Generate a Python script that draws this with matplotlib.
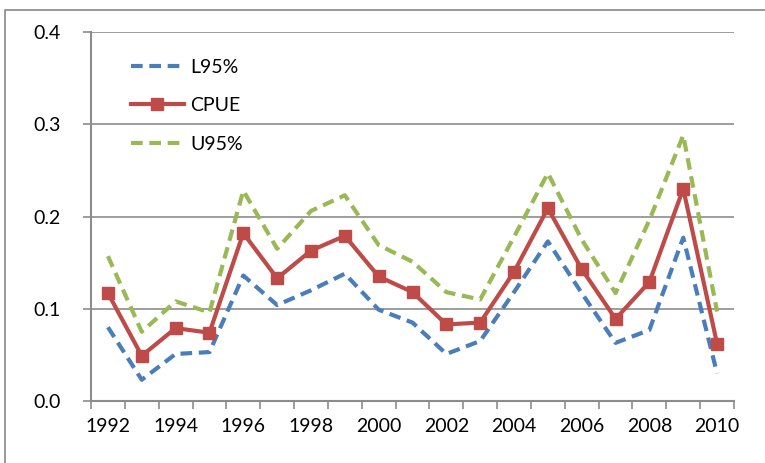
import matplotlib.pyplot as plt
import matplotlib.patches as mpatches
import numpy as np

plt.rcParams['font.family'] = ['Lato', 'DejaVu Sans']

years = list(range(1992, 2011))
cpue = [0.117, 0.049, 0.079, 0.074, 0.182, 0.133, 0.163, 0.179, 0.135, 0.118,
        0.083, 0.085, 0.140, 0.209, 0.143, 0.089, 0.129, 0.230, 0.062]
l95 = [0.080, 0.023, 0.051, 0.053, 0.136, 0.104, 0.120, 0.138, 0.099, 0.085,
       0.051, 0.065, 0.118, 0.173, 0.117, 0.063, 0.077, 0.177, 0.030]
u95 = [0.157, 0.075, 0.108, 0.096, 0.228, 0.165, 0.206, 0.223, 0.169, 0.151,
       0.118, 0.110, 0.178, 0.247, 0.175, 0.117, 0.196, 0.288, 0.097]
tick_years = [str(y) for y in years[::2]]

blue = '#4a7ebb'
red = '#be4b48'
green = '#98b954'

fig = plt.figure(figsize=(7.65, 4.63), dpi=100)
ax = fig.add_axes([91 / 765, 1 - 401 / 463, (734 - 91) / 765, (401 - 32) / 463])

# outer chart border (top and left visible)
fig.add_artist(mpatches.Rectangle((5 / 765, -0.05), 1.0, 1 - 10 / 463 + 0.05,
                                  transform=fig.transFigure, fill=False,
                                  edgecolor='#888888', linewidth=1.2))

x = np.arange(len(years))
ax.plot(x, l95, '--', color=blue, lw=3, dashes=(2.8, 1.6), label='L95%', zorder=3)
ax.plot(x, cpue, '-s', color=red, lw=3, markersize=8, label='CPUE', zorder=4)
ax.plot(x, u95, '--', color=green, lw=3, dashes=(2.8, 1.6), label='U95%', zorder=3)

ax.set_xlim(-0.5, len(years) - 0.5)
ax.set_ylim(0, 0.4)
ax.set_yticks([0.0, 0.1, 0.2, 0.3, 0.4])
ax.set_yticklabels(['0.0', '0.1', '0.2', '0.3', '0.4'])
ax.yaxis.grid(True, color='#8c8c8c', lw=1.2)
ax.set_axisbelow(True)

ax.set_xticks(np.arange(len(years) + 1) - 0.5)
ax.set_xticklabels([])
ax.set_xticks(x[::2], minor=True)
ax.set_xticklabels(tick_years, minor=True)
ax.tick_params(axis='x', which='major', length=6, color='#8c8c8c', width=1.2, direction='out')
ax.tick_params(axis='x', which='minor', length=0, pad=12, labelsize=14)
ax.tick_params(axis='y', length=6, color='#8c8c8c', width=1.2, pad=16, labelsize=14)

for s in ['top', 'right']:
    ax.spines[s].set_visible(False)
for s in ['left', 'bottom']:
    ax.spines[s].set_color('#8c8c8c')
    ax.spines[s].set_linewidth(1.5)

ax.legend(loc='upper left', bbox_to_anchor=(0.035, 0.975), frameon=False,
          fontsize=14, handlelength=2.7, labelspacing=1.1, handletextpad=0.35)

fig.savefig('out.png', dpi=100)
